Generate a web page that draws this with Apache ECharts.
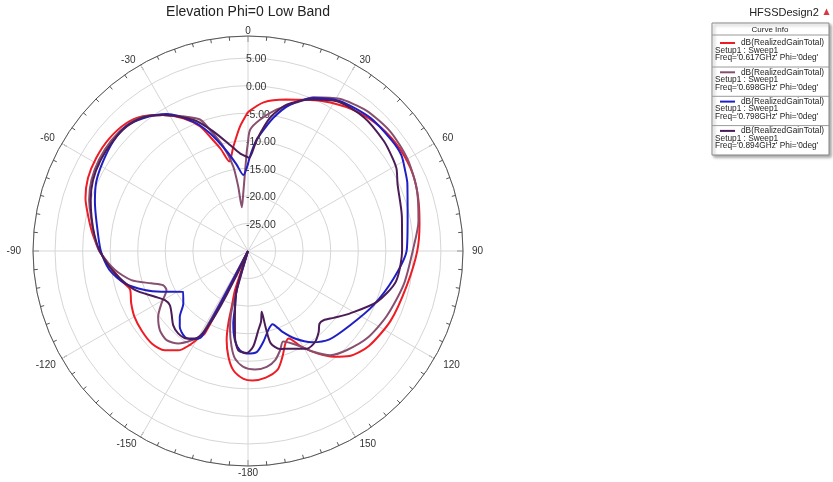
<!DOCTYPE html>
<html><head><meta charset="utf-8">
<script src="https://cdn.jsdelivr.net/npm/echarts@6/dist/echarts.min.js"></script>
<style>html,body{margin:0;padding:0;background:#fff}#c{width:833px;height:482px}</style>
</head><body><div id="c"></div>
<script>
// Angle ticks (clockwise from top, degrees) and the labels the reference shows for them
const angleTicks  = [0, 30, 60, 90, 120, 150, 180, 210, 240, 270, 300, 330];
const angleLabels = ['0','30','60','90','120','150','-180','-150','-120','-90','-60','-30'];
// Radial gain ticks (dB)
const radiusLabels = [-25, -20, -15, -10, -5, 0, 5];
const freqs = ['0.617GHz', '0.698GHz', '0.798GHz', '0.894GHz'];
const colors = ['#ee1c24', '#87506f', '#1f1fc4', '#4a1c58'];

// [theta (deg, clockwise from 0 at top), gain dB]
const gain0617 = [[0,-4.8],[6,-2.9],[14,-1.7],[21,-0.6],[29,0.8],[38,2.1],[47,2.9],[56,3.2],[65,3.0],[73,2.3],[81,1.5],[90,0.7],[102,-0.5],[116,-1.2],[128,-2.1],[136,-3.5],[141,-5.3],[146,-7.6],[151,-10.2],[155,-12.5],[158,-11.9],[162,-9.8],[166,-7.8],[172,-6.8],[178,-6.5],[182,-6.8],[187,-8.2],[190.5,-10.5],[193.5,-13.4],[195.2,-16.4],[196.3,-19.5],[198.4,-22.5],[200,-30],[206,-30],[207.6,-13.1],[209.7,-11.7],[212,-9.8],[215,-8.0],[220,-6.5],[226,-5.8],[233,-5.9],[240,-6.2],[246,-6.8],[252,-7.5],[256,-6.6],[264,-4.8],[270,-3.1],[276,-1.7],[282,-0.4],[288,1.0],[294.5,1.9],[301.5,2.3],[309,2.4],[316.5,2.0],[322,1.0],[328,-0.9],[334,-3.2],[339,-5.8],[342,-8.5],[345,-10.8],[348.2,-13.4],[352,-10.9],[356.3,-7.4],[360,-4.8]];
const gain0698 = [[0,-10.3],[1,-8.0],[5.2,-6.1],[11.5,-3.8],[19.2,-1.25],[23,0.3],[31,2.2],[40,3.3],[50,3.7],[60,3.4],[70,2.6],[80,1.4],[89,0.0],[102,-1.1],[115,-2.2],[126,-3.2],[135,-4.6],[141.7,-5.9],[147,-8.2],[152.6,-10.8],[158.8,-12.4],[162,-11.1],[166,-9.6],[170.8,-8.7],[176.6,-8.45],[182.3,-8.95],[186.9,-10.35],[189.7,-12.35],[192.8,-15.3],[195.4,-18.9],[198,-30],[206,-30],[208.9,-12.6],[212.3,-10.85],[217,-9.0],[222.4,-8.1],[228,-8.5],[233.8,-9.8],[238.8,-11.65],[244.4,-13.6],[248,-13.4],[251.5,-11.5],[256,-8.2],[262,-5.6],[270,-3.0],[276,-1.9],[282,-0.9],[288,0.3],[294.5,1.2],[301.5,1.7],[309,1.9],[316,1.7],[322,0.9],[328,-0.9],[334,-2.8],[339.9,-4.6],[342.6,-6.95],[346.7,-10.5],[350.1,-14.4],[351.4,-18.2],[352,-22],[355.3,-19.5],[359.2,-12.2],[360,-10.3]];
const gain0798 = [[0,-14.2],[1.2,-12.85],[3.7,-10.4],[5.9,-8.8],[10.8,-5.4],[16,-2.4],[23.2,0.2],[31.6,1.9],[42.6,2.8],[52.4,2.9],[58,2.8],[63,2.0],[67,1.4],[78,-0.4],[89.6,-1.2],[100.6,-3.1],[113.3,-5.2],[126,-7.1],[137.3,-8.2],[145,-9.8],[151.8,-12.0],[157.2,-14.2],[161.5,-16.0],[165.3,-15.3],[170.4,-13.3],[175.1,-11.6],[180.7,-11.4],[184.6,-11.9],[188.3,-13.6],[191.5,-16.6],[193.1,-19.6],[196.2,-22.6],[198,-30],[206,-30],[208.4,-12.3],[212.5,-11.0],[216.3,-10.65],[222,-11.5],[226,-12.8],[231,-14.9],[237.8,-16.1],[244.8,-12.65],[249.3,-10.0],[255.3,-6.9],[262.3,-4.6],[270,-3.3],[281,-2.0],[288,-0.8],[294.6,0.26],[301.7,0.9],[309,1.5],[315.7,1.6],[321.7,0.7],[329.3,-1.1],[337,-4.5],[342,-7.5],[348,-11.5],[352.5,-14.2],[356.5,-16.2],[360,-14.2]];
const gain0894 = [[0,-13.0],[0.8,-13.1],[4.5,-9.8],[9.4,-5.5],[14.8,-2.55],[22.3,-0.3],[30.7,1.6],[41,2.1],[51,1.7],[57,1.2],[61,0.8],[66,-0.3],[77.4,-1.4],[89.6,-2.05],[101.7,-2.6],[111.5,-4.85],[121.4,-8.3],[128,-10.3],[132.5,-11.4],[135.5,-11.5],[138.9,-10.5],[143.6,-9.5],[148.9,-9.3],[156.6,-10.7],[162,-11.3],[166.2,-12.8],[167,-15.9],[167.3,-18.7],[169.5,-17],[172.6,-15.5],[176.8,-12.7],[180.7,-11.5],[185.6,-11.9],[188.6,-14.2],[191.2,-17.8],[196.2,-22.6],[198,-30],[206,-30],[211.3,-11.4],[215,-10.6],[220.3,-10.4],[225.3,-10.9],[230.8,-12.1],[235.3,-12.75],[239.4,-12.5],[243.8,-11.2],[251,-8.3],[260.5,-5.5],[270,-3.1],[276,-2.0],[282,-1.0],[288,0.0],[294.5,0.9],[301.5,1.4],[309,1.6],[316,1.5],[322,0.8],[328,-0.9],[337.3,-4.2],[343.8,-7.4],[351.9,-11.1],[356,-12.4],[360,-13.0]];
const allGains = [gain0617, gain0698, gain0798, gain0894];

const chart = echarts.init(document.getElementById('c'), null, {renderer: 'canvas'});
const FONT = 'Arial, "Liberation Sans", sans-serif';

// per-label nudges (px) so the angle labels sit where the reference puts them
const labelPad = [[0,0,0,0],[0,0,0,4],[0,0,0,8],[0,0,0,9],[2,0,0,9],[2,0,0,4],[2,0,0,0],[2,4,0,0],[2,6,0,0],[0,12,0,0],[0,7,0,0],[0,5,0,0]];
const angleRich = {};
labelPad.forEach((p, k) => { angleRich['a' + k] = {padding: p, fontSize: 10, fontFamily: FONT, color: '#333'}; });

const legendGraphics = [];
legendGraphics.push({type:'text', x: 784, y: 13, style:{text:'HFSSDesign2', font:'11px '+FONT, fill:'#222', textAlign:'center', textVerticalAlign:'middle'}});
legendGraphics.push({type:'polygon', shape:{points:[[826.5,8.5],[823.5,15],[829.5,15]]}, style:{fill:'#d9363e'}});
legendGraphics.push({type:'rect', shape:{x:712, y:23, width:117, height:132}, style:{fill:'#fff', stroke:'#8a8a8a', lineWidth:1, shadowBlur:3, shadowOffsetX:2, shadowOffsetY:2, shadowColor:'rgba(0,0,0,0.35)'}});
legendGraphics.push({type:'text', x:770, y:29.5, style:{text:'Curve Info', font:'8px '+FONT, fill:'#222', textAlign:'center', textVerticalAlign:'middle'}});
legendGraphics.push({type:'line', shape:{x1:712, y1:35, x2:829, y2:35}, style:{stroke:'#9a9a9a', lineWidth:1}});
freqs.forEach((f, i) => {
  const b = 43 + i * 29.3;
  legendGraphics.push({type:'line', shape:{x1:720, y1:b, x2:735, y2:b}, style:{stroke:colors[i], lineWidth:2}});
  legendGraphics.push({type:'text', x:741, y:b, style:{text:'dB(RealizedGainTotal)', font:'8.3px '+FONT, fill:'#222', textVerticalAlign:'middle'}});
  legendGraphics.push({type:'text', x:715, y:b+7.5, style:{text:'Setup1 : Sweep1', font:'8.3px '+FONT, fill:'#222', textVerticalAlign:'middle'}});
  legendGraphics.push({type:'text', x:715, y:b+15, style:{text:"Freq='" + f + "' Phi='0deg'", font:'8.3px '+FONT, fill:'#222', textVerticalAlign:'middle'}});
  if (i < 3) legendGraphics.push({type:'line', shape:{x1:712, y1:b+24, x2:829, y2:b+24}, style:{stroke:'#9a9a9a', lineWidth:1}});
});
legendGraphics.push({type:'text', x:248, y:12, style:{text:'Elevation Phi=0 Low Band', font:'14px '+FONT, fill:'#222', textAlign:'center', textVerticalAlign:'middle'}});

chart.setOption({
  animation: false,
  backgroundColor: '#fff',
  polar: {center: [248, 251], radius: 215},
  angleAxis: {
    type: 'value', min: 0, max: 360, interval: 30, startAngle: 90, clockwise: true,
    axisLine: {show: true, lineStyle: {color: '#555', width: 1}},
    axisTick: {show: true, inside: true, length: 6, lineStyle: {color: '#555'}},
    minorTick: {show: true, splitNumber: 6, length: 4, lineStyle: {color: '#555'}},
    axisLabel: {
      margin: 0, color: '#333', fontFamily: FONT, fontSize: 10, rich: angleRich,
      formatter: v => { const k = angleTicks.indexOf(v); return k >= 0 ? '{a' + k + '|' + angleLabels[k] + '}' : ''; }
    },
    splitLine: {show: true, lineStyle: {color: '#d6d6d6', width: 1}}
  },
  radiusAxis: {
    type: 'value', min: -30, max: 9, interval: 5,
    axisLine: {show: false}, axisTick: {show: false},
    axisLabel: {
      show: true, color: '#333', fontFamily: FONT, fontSize: 10.5, margin: 2, align: 'left', verticalAlign: 'middle',
      rich: {r: {padding: [3, 0, 0, 0], fontSize: 10.5, fontFamily: FONT, color: '#333'}},
      formatter: v => radiusLabels.indexOf(v) >= 0 ? '{r|' + v.toFixed(2) + '}' : ''
    },
    splitLine: {show: true, lineStyle: {color: '#d6d6d6', width: 1}}
  },
  graphic: legendGraphics,
  series: allGains.map((g, i) => ({
    type: 'line', coordinateSystem: 'polar', name: freqs[i],
    data: g, encode: {angle: 0, radius: 1},
    showSymbol: false, smooth: 0.25, silent: true,
    lineStyle: {color: colors[i], width: 2}
  }))
});
</script></body></html>
